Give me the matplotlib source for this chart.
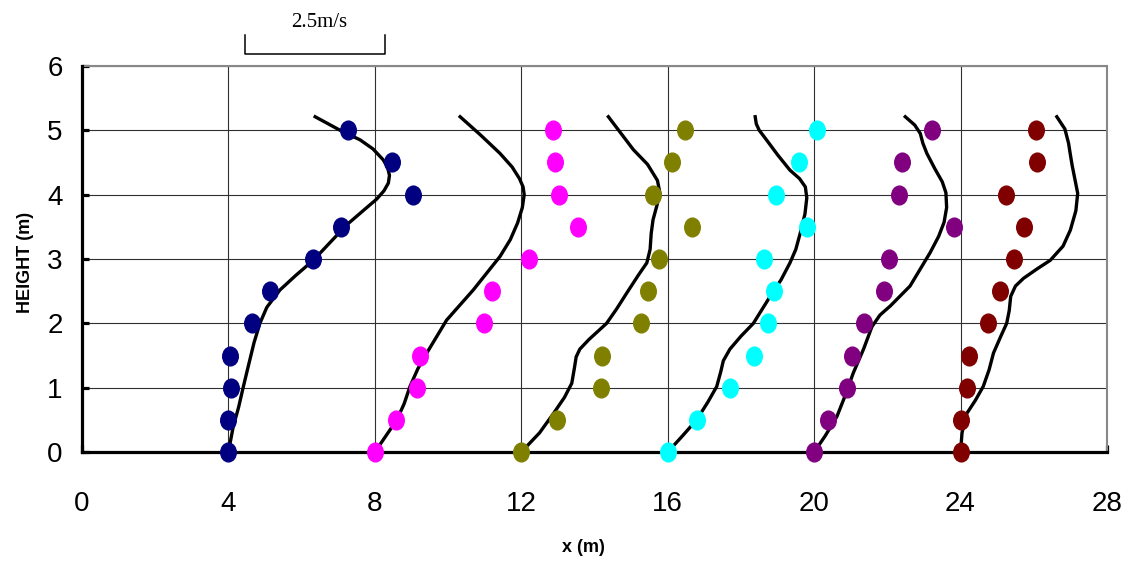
import numpy as np
import matplotlib.pyplot as plt
from matplotlib.path import Path
from matplotlib.transforms import Affine2D

# measured points (x position of dot at each height)
heights = [0, 0.5, 1, 1.5, 2, 2.5, 3, 3.5, 4, 4.5, 5]

dots_4 = [4.0, 3.98, 4.07, 4.04, 4.65, 5.14, 6.32, 7.07, 9.03, 8.46, 7.26]
dots_8 = [8.0, 8.57, 9.16, 9.24, 10.98, 11.2, 12.2, 13.56, 13.02, 12.92, 12.87]
dots_12 = [12.0, 12.97, 14.18, 14.2, 15.27, 15.46, 15.77, 16.67, 15.61, 16.11, 16.48]
dots_16 = [16.0, 16.79, 17.69, 18.35, 18.74, 18.9, 18.63, 19.8, 18.96, 19.58, 20.07]
dots_20 = [20.0, 20.39, 20.91, 21.03, 21.35, 21.91, 22.05, 23.83, 22.31, 22.4, 23.22]
dots_24 = [24.0, 24.0, 24.17, 24.24, 24.74, 25.08, 25.45, 25.74, 25.25, 26.08, 26.06]

# traced profile curves
line_4_x = [4.0, 4.13, 4.28, 4.41, 4.55, 4.7, 4.86, 5.05, 5.41, 5.85, 6.32, 6.8, 7.23,
            7.7, 8.05, 8.25, 8.37, 8.4, 8.35, 8.23, 7.95, 7.6, 7.05, 6.37]
line_4_y = [0.0, 0.39, 0.7, 1.02, 1.35, 1.7, 2.0, 2.25, 2.52, 2.75, 2.98, 3.27, 3.53,
            3.76, 3.93, 4.06, 4.18, 4.3, 4.42, 4.54, 4.71, 4.85, 5.0, 5.21]

line_8_x = [8.0, 8.6, 8.8, 8.96, 9.18, 9.42, 9.96, 10.69, 11.42, 11.7, 11.9, 12.03, 12.08,
            12.05, 11.95, 11.75, 11.42, 10.9, 10.33]
line_8_y = [0.0, 0.5, 0.75, 1.02, 1.3, 1.54, 2.05, 2.52, 3.04, 3.3, 3.56, 3.8, 4.0,
            4.12, 4.25, 4.43, 4.64, 4.92, 5.21]

line_12_x = [12.0, 12.5, 12.88, 13.18, 13.38, 13.45, 13.5, 13.6, 13.85, 14.33, 14.6, 14.88,
             15.2, 15.43, 15.52, 15.55, 15.6, 15.7, 15.79, 15.72, 15.45, 15.06, 14.7, 14.38]
line_12_y = [0.0, 0.3, 0.6, 0.85, 1.07, 1.3, 1.48, 1.6, 1.75, 2.0, 2.22, 2.47,
             2.75, 2.94, 3.15, 3.4, 3.61, 3.82, 4.02, 4.22, 4.47, 4.7, 4.97, 5.21]

line_16_x = [16.0, 16.4, 16.79, 17.1, 17.34, 17.45, 17.52, 17.7, 18.0, 18.34, 18.8, 19.1,
             19.34, 19.5, 19.62, 19.75, 19.8, 19.76, 19.6, 19.34, 19.0, 18.7, 18.5, 18.42, 18.39]
line_16_y = [0.0, 0.25, 0.5, 0.78, 1.02, 1.25, 1.42, 1.6, 1.8, 2.0, 2.42, 2.68,
             2.94, 3.15, 3.4, 3.7, 3.95, 4.12, 4.25, 4.38, 4.62, 4.85, 5.0, 5.1, 5.21]

line_20_x = [20.0, 20.3, 20.62, 20.85, 21.07, 21.35, 21.58, 21.8, 22.08, 22.62, 23.17, 23.4,
             23.55, 23.62, 23.6, 23.5, 23.3, 23.08, 22.97, 22.9, 22.75, 22.49]
line_20_y = [0.0, 0.25, 0.55, 0.88, 1.23, 1.6, 1.95, 2.13, 2.27, 2.58, 3.1, 3.35,
             3.57, 3.8, 4.03, 4.2, 4.4, 4.64, 4.8, 4.95, 5.08, 5.21]

line_24_x = [24.0, 24.04, 24.17, 24.4, 24.62, 24.78, 24.9, 25.1, 25.26, 25.33, 25.37, 25.5,
             25.72, 26.1, 26.45, 26.8, 27.0, 27.15, 27.2, 27.12, 27.05, 27.0, 26.95, 26.85, 26.63]
line_24_y = [0.0, 0.3, 0.6, 0.8, 1.02, 1.28, 1.54, 1.8, 2.0, 2.2, 2.42, 2.58,
             2.7, 2.85, 2.98, 3.2, 3.45, 3.75, 4.02, 4.25, 4.45, 4.62, 4.8, 5.02, 5.21]

colors = ['#000080', '#FF00FF', '#808000', '#00FFFF', '#800080', '#800000']

plt.rcParams['font.family'] = ['Liberation Sans', 'DejaVu Sans']


def main():
    fig = plt.figure(figsize=(11.32, 5.68), dpi=100)
    ax = fig.add_axes([0.0724, 0.204, 0.9055, 0.680])

    circle = Path.unit_circle()
    ellipse = Affine2D().scale(0.83, 1.0).transform_path(circle)

    lines = [(line_4_x, line_4_y), (line_8_x, line_8_y), (line_12_x, line_12_y),
             (line_16_x, line_16_y), (line_20_x, line_20_y), (line_24_x, line_24_y)]
    dots = [dots_4, dots_8, dots_12, dots_16, dots_20, dots_24]

    for (lx, ly), d, c in zip(lines, dots, colors):
        ax.plot(lx, ly, color='black', lw=2.4, zorder=3, solid_joinstyle='round')
        ax.plot(d, heights, ls='none', marker=ellipse, ms=13.5, color=c,
                zorder=4, clip_on=False)

    ax.set_xlim(0, 28)
    ax.set_ylim(0, 6)
    ax.set_xticks(np.arange(0, 29, 4))
    ax.set_yticks(np.arange(0, 7, 1))
    ax.grid(True, color='#303030', lw=0.8)
    ax.set_axisbelow(True)

    for s in ['left', 'bottom']:
        ax.spines[s].set_linewidth(2.3)
        ax.spines[s].set_color('black')
        ax.spines[s].set_zorder(3.5)
    for s in ['top', 'right']:
        ax.spines[s].set_linewidth(1.5)
        ax.spines[s].set_color('#888888')

    ax.tick_params(axis='both', direction='in', length=5, width=2.3, labelsize=20)
    ax.tick_params(axis='x', pad=28)
    ax.tick_params(axis='y', pad=14)

    ax.set_xlabel('x (m)', fontsize=13, fontweight='bold')
    ax.set_ylabel('HEIGHT (m)', fontsize=13, fontweight='bold')
    ax.xaxis.set_label_coords(0.489, -0.225)
    ax.yaxis.set_label_coords(-0.047, 0.49)

    # velocity scale bar
    ax.plot([4.45, 4.45, 8.28, 8.28], [6.48, 6.19, 6.19, 6.48], color='black',
            lw=1.1, clip_on=False)
    ax.text(6.47, 6.67, '2.5m/s', ha='center', va='center', fontsize=15,
            family=['Liberation Serif', 'DejaVu Serif'])

    fig.savefig('out.png', dpi=100)


if __name__ == "__main__":
    main()
